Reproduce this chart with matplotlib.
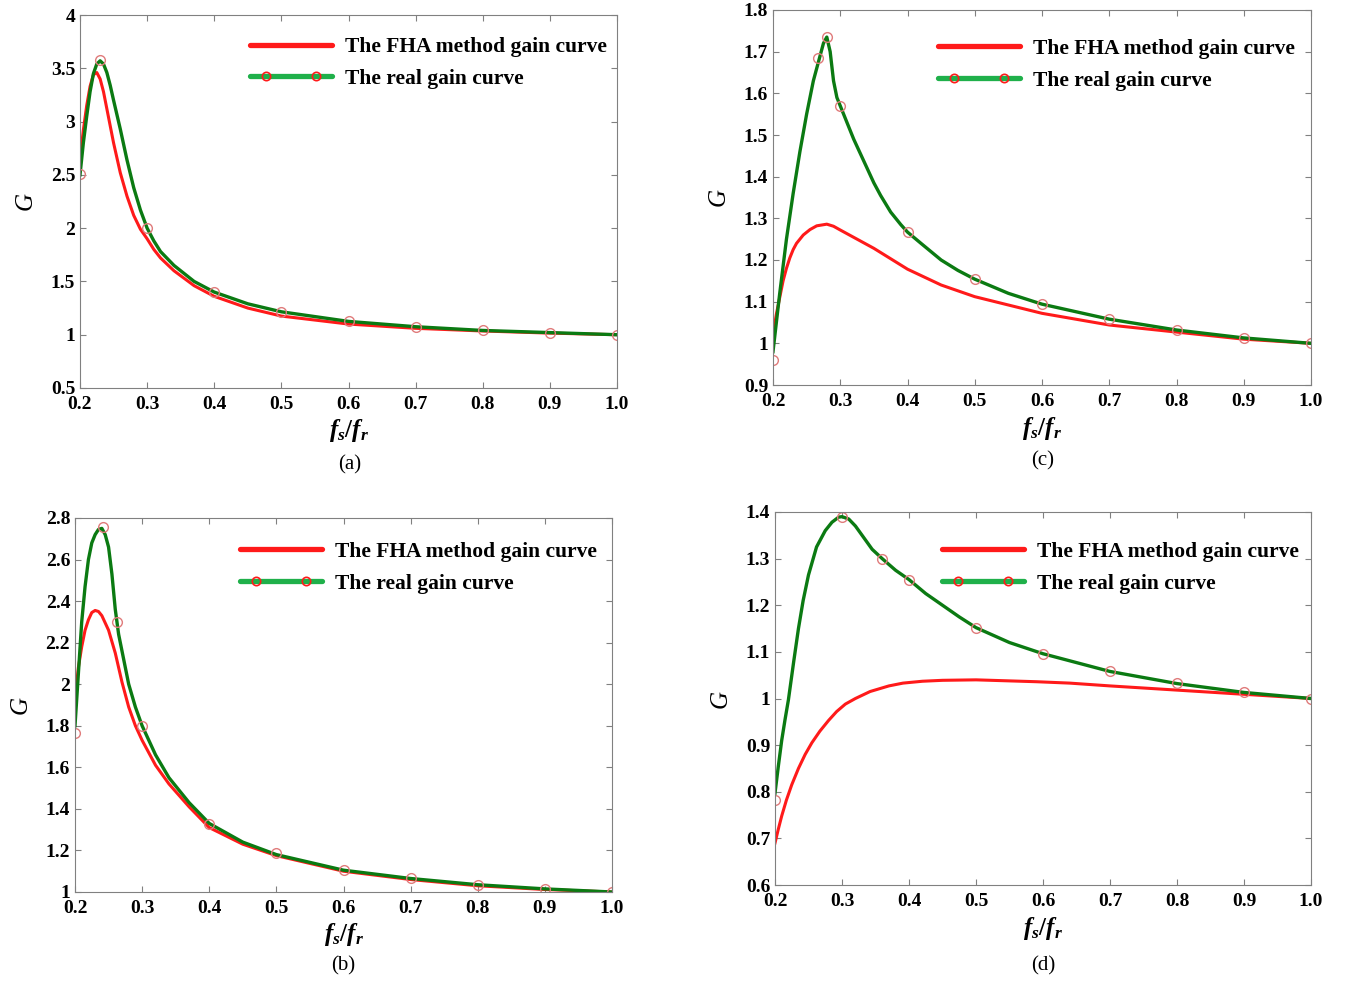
import numpy as np
import matplotlib.pyplot as plt
from matplotlib.lines import Line2D
from matplotlib.legend_handler import HandlerLine2D, HandlerTuple

plt.rcParams['font.family'] = 'Liberation Serif'
plt.rcParams['font.weight'] = 'bold'
plt.rcParams['mathtext.fontset'] = 'custom'
plt.rcParams['mathtext.it'] = 'Liberation Serif:italic:bold'
plt.rcParams['mathtext.rm'] = 'Liberation Serif:bold'

# ---------- (a) ----------
xa_fha = [0.2, 0.205, 0.21, 0.215, 0.22, 0.225, 0.23, 0.235, 0.24, 0.245, 0.25, 0.26, 0.27, 0.28,
          0.29, 0.3, 0.31, 0.32, 0.34, 0.37, 0.4, 0.45, 0.5, 0.6, 0.7, 0.8, 0.9, 1.0]
ga_fha = [2.65, 2.92, 3.15, 3.33, 3.44, 3.46, 3.4, 3.28, 3.12, 2.96, 2.8, 2.52, 2.3, 2.12,
          1.99, 1.9, 1.8, 1.72, 1.6, 1.46, 1.36, 1.25, 1.175, 1.1, 1.06, 1.035, 1.015, 1.0]
xa_real = [0.2, 0.205, 0.21, 0.215, 0.22, 0.225, 0.23, 0.235, 0.24, 0.245, 0.25, 0.26, 0.27, 0.28,
           0.29, 0.3, 0.31, 0.32, 0.34, 0.37, 0.4, 0.45, 0.5, 0.6, 0.7, 0.8, 0.9, 1.0]
ga_real = [2.5, 2.8, 3.05, 3.28, 3.45, 3.54, 3.57, 3.54, 3.46, 3.34, 3.2, 2.93, 2.64, 2.38,
           2.17, 2.0, 1.88, 1.78, 1.65, 1.5, 1.4, 1.29, 1.215, 1.125, 1.075, 1.04, 1.02, 1.0]
xa_pts = [0.2, 0.23, 0.3, 0.4, 0.5, 0.6, 0.7, 0.8, 0.9, 1.0]
ga_pts = [2.507, 3.58, 2.0, 1.403, 1.216, 1.125, 1.075, 1.043, 1.02, 1.0]

# ---------- (b) ----------
xb_fha = [0.2, 0.205, 0.21, 0.215, 0.22, 0.225, 0.23, 0.235, 0.24, 0.25, 0.26, 0.27, 0.28, 0.29, 0.3,
          0.32, 0.34, 0.37, 0.4, 0.45, 0.5, 0.6, 0.7, 0.8, 0.9, 1.0]
gb_fha = [1.93, 2.08, 2.18, 2.26, 2.31, 2.345, 2.355, 2.35, 2.33, 2.26, 2.15, 2.01, 1.89, 1.8, 1.73,
          1.61, 1.52, 1.41, 1.31, 1.23, 1.175, 1.1, 1.06, 1.03, 1.012, 1.0]
xb_real = [0.2, 0.205, 0.21, 0.215, 0.22, 0.225, 0.23, 0.235, 0.24, 0.245, 0.25, 0.255, 0.26, 0.265,
           0.27, 0.28, 0.29, 0.3, 0.32, 0.34, 0.37, 0.4, 0.45, 0.5, 0.6, 0.7, 0.8, 0.9, 1.0]
gb_real = [1.8, 2.05, 2.3, 2.47, 2.6, 2.68, 2.72, 2.745, 2.75, 2.72, 2.66, 2.53, 2.36, 2.24,
           2.16, 2.0, 1.89, 1.8, 1.66, 1.55, 1.43, 1.33, 1.24, 1.18, 1.105, 1.065, 1.035, 1.015, 1.0]
xb_pts = [0.2, 0.242, 0.262, 0.3, 0.4, 0.5, 0.6, 0.7, 0.8, 0.9, 1.0]
gb_pts = [1.765, 2.758, 2.3, 1.8, 1.325, 1.186, 1.108, 1.066, 1.036, 1.015, 1.0]

# ---------- (c) ----------
xc_fha = [0.2, 0.205, 0.21, 0.215, 0.22, 0.225, 0.23, 0.235, 0.245, 0.255, 0.265, 0.28, 0.29, 0.3,
          0.325, 0.35, 0.4, 0.45, 0.5, 0.6, 0.7, 0.8, 0.9, 1.0]
gc_fha = [1.02, 1.07, 1.11, 1.15, 1.18, 1.205, 1.225, 1.24, 1.26, 1.273, 1.282, 1.286, 1.281, 1.272,
          1.25, 1.228, 1.178, 1.14, 1.112, 1.072, 1.044, 1.027, 1.01, 1.0]
xc_real = [0.2, 0.21, 0.22, 0.23, 0.24, 0.25, 0.26, 0.27, 0.275, 0.28, 0.285, 0.29, 0.295, 0.3,
           0.31, 0.32, 0.33, 0.34, 0.35, 0.36, 0.375, 0.39, 0.4, 0.42, 0.45, 0.475, 0.5, 0.55,
           0.6, 0.7, 0.8, 0.9, 1.0]
gc_real = [0.98, 1.12, 1.25, 1.36, 1.46, 1.55, 1.63, 1.69, 1.72, 1.735, 1.7, 1.63, 1.59, 1.57,
           1.53, 1.49, 1.455, 1.42, 1.385, 1.355, 1.315, 1.285, 1.267, 1.24, 1.2, 1.175, 1.154, 1.12,
           1.094, 1.058, 1.032, 1.013, 1.0]
xc_pts = [0.2, 0.267, 0.28, 0.3, 0.4, 0.5, 0.6, 0.7, 0.8, 0.9, 1.0]
gc_pts = [0.96, 1.685, 1.735, 1.57, 1.267, 1.154, 1.094, 1.058, 1.032, 1.012, 1.0]

# ---------- (d) ----------
xd_fha = [0.2, 0.205, 0.21, 0.217, 0.225, 0.235, 0.245, 0.255, 0.267, 0.28, 0.292, 0.305, 0.32,
          0.342, 0.37, 0.391, 0.42, 0.45, 0.5, 0.59, 0.64, 0.7, 0.8, 0.9, 1.0]
gd_fha = [0.69, 0.72, 0.748, 0.782, 0.815, 0.85, 0.88, 0.905, 0.93, 0.953, 0.972, 0.988, 1.0,
          1.015, 1.027, 1.033, 1.037, 1.039, 1.04, 1.036, 1.033, 1.027, 1.018, 1.009, 1.0]
xd_real = [0.2, 0.205, 0.21, 0.215, 0.22, 0.228, 0.235, 0.242, 0.25, 0.262, 0.275, 0.285, 0.295,
           0.3, 0.31, 0.32, 0.33, 0.345, 0.36, 0.38, 0.4, 0.425, 0.45, 0.475, 0.5, 0.55, 0.6, 0.7,
           0.8, 0.9, 1.0]
gd_real = [0.797, 0.855, 0.91, 0.955, 0.997, 1.08, 1.15, 1.21, 1.265, 1.325, 1.36, 1.378, 1.389,
           1.39, 1.385, 1.37, 1.35, 1.32, 1.3, 1.275, 1.255, 1.225, 1.2, 1.175, 1.152, 1.12, 1.096,
           1.058, 1.032, 1.013, 1.0]
xd_pts = [0.2, 0.3, 0.36, 0.4, 0.5, 0.6, 0.7, 0.8, 0.9, 1.0]
gd_pts = [0.783, 1.39, 1.30, 1.254, 1.152, 1.096, 1.058, 1.033, 1.013, 1.0]

x_ticks = [0.2, 0.3, 0.4, 0.5, 0.6, 0.7, 0.8, 0.9, 1.0]
x_ticklabels = ['0.2', '0.3', '0.4', '0.5', '0.6', '0.7', '0.8', '0.9', '1.0']
ya_ticks = [0.5, 1, 1.5, 2, 2.5, 3, 3.5, 4]
yb_ticks = [1, 1.2, 1.4, 1.6, 1.8, 2, 2.2, 2.4, 2.6, 2.8]
yc_ticks = [0.9, 1, 1.1, 1.2, 1.3, 1.4, 1.5, 1.6, 1.7, 1.8]
yd_ticks = [0.6, 0.7, 0.8, 0.9, 1, 1.1, 1.2, 1.3, 1.4]
labels = ['The FHA method gain curve', 'The real gain curve']

RED = '#ff1a1a'
GREEN = '#0b7a12'
LEG_GREEN = '#1fb04a'
MK = '#e07b7b'
W, H = 1351, 983

fig = plt.figure(figsize=(W / 100, H / 100), dpi=100)


def panel(box, xf, gf, xr, gr, xp, gp, yticks, cap, cap_xy, leg_xy):
    l, t, r, b = box
    ax = fig.add_axes([l / W, 1 - b / H, (r - l) / W, (b - t) / H])
    ax.plot(xf, gf, color=RED, lw=2.2)
    ax.plot(xr, gr, color=GREEN, lw=2.4)
    ax.plot(xp, gp, 'o', mfc='none', mec=MK, ms=7, mew=1)
    ax.set_xlim(0.2, 1.0)
    ax.set_ylim(yticks[0], yticks[-1])
    ax.set_xticks(x_ticks)
    ax.set_xticklabels(x_ticklabels)
    ax.set_yticks(yticks)
    ax.set_yticklabels(['%g' % v for v in yticks])
    ax.tick_params(direction='in', top=True, right=True, color='#808080',
                   length=4, labelsize=14)
    ax.tick_params(axis='x', pad=6)
    for s in ax.spines.values():
        s.set_color('#808080')
    ax.set_xlabel('$f_s/f_r$', fontsize=18, labelpad=3)
    ax.set_ylabel('G', fontsize=18, style='italic', labelpad=10)
    # legend handles: green line with two red circles sitting on it
    h1 = Line2D([], [], color=RED, lw=3.8, solid_capstyle='round')
    h2 = Line2D([], [], color=LEG_GREEN, lw=3.8, solid_capstyle='round')
    h2m = Line2D([], [], ls='none', marker='o', mfc='none', mec=RED, ms=6, mew=1.2)
    ax.legend([h1, (h2, h2m)], labels,
              handler_map={Line2D: HandlerLine2D(marker_pad=0),
                           h2m: HandlerLine2D(marker_pad=0.75, numpoints=2),
                           tuple: HandlerTuple(ndivide=1, pad=0)},
              loc='upper left', bbox_to_anchor=leg_xy, frameon=False,
              fontsize=15.5, handlelength=3.8, handletextpad=0.6, numpoints=2,
              labelspacing=0.55, borderpad=0, borderaxespad=0)
    fig.text(cap_xy[0] / W, 1 - cap_xy[1] / H, cap, fontsize=15,
             fontweight='normal', ha='center', va='center')
    return ax


panel((80, 15, 617, 388), xa_fha, ga_fha, xa_real, ga_real, xa_pts, ga_pts,
      ya_ticks, '(a)', (350, 465), (0.317, 0.941))
panel((75, 518, 612, 892), xb_fha, gb_fha, xb_real, gb_real, xb_pts, gb_pts,
      yb_ticks, '(b)', (343, 966), (0.307, 0.936))
panel((773, 10, 1311, 385), xc_fha, gc_fha, xc_real, gc_real, xc_pts, gc_pts,
      yc_ticks, '(c)', (1043, 461), (0.307, 0.923))
panel((775, 512, 1311, 885), xd_fha, gd_fha, xd_real, gd_real, xd_pts, gd_pts,
      yd_ticks, '(d)', (1043, 966), (0.312, 0.920))

fig.savefig('out.png', dpi=100)
